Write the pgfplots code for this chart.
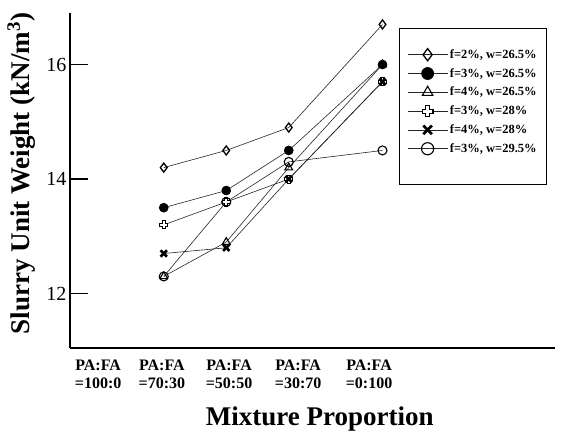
\documentclass[border=0pt]{standalone}
\usepackage{fontspec}
\setmainfont{Liberation Serif}
\usepackage{pgfplots}
\pgfplotsset{compat=1.18}

\pgfdeclareplotmark{hplus}{%
  \pgfpathmoveto{\pgfqpoint{-0.38\pgfplotmarksize}{\pgfplotmarksize}}%
  \pgfpathlineto{\pgfqpoint{0.38\pgfplotmarksize}{\pgfplotmarksize}}%
  \pgfpathlineto{\pgfqpoint{0.38\pgfplotmarksize}{0.38\pgfplotmarksize}}%
  \pgfpathlineto{\pgfqpoint{\pgfplotmarksize}{0.38\pgfplotmarksize}}%
  \pgfpathlineto{\pgfqpoint{\pgfplotmarksize}{-0.38\pgfplotmarksize}}%
  \pgfpathlineto{\pgfqpoint{0.38\pgfplotmarksize}{-0.38\pgfplotmarksize}}%
  \pgfpathlineto{\pgfqpoint{0.38\pgfplotmarksize}{-\pgfplotmarksize}}%
  \pgfpathlineto{\pgfqpoint{-0.38\pgfplotmarksize}{-\pgfplotmarksize}}%
  \pgfpathlineto{\pgfqpoint{-0.38\pgfplotmarksize}{-0.38\pgfplotmarksize}}%
  \pgfpathlineto{\pgfqpoint{-\pgfplotmarksize}{-0.38\pgfplotmarksize}}%
  \pgfpathlineto{\pgfqpoint{-\pgfplotmarksize}{0.38\pgfplotmarksize}}%
  \pgfpathlineto{\pgfqpoint{-0.38\pgfplotmarksize}{0.38\pgfplotmarksize}}%
  \pgfpathclose
  \pgfusepathqfillstroke
}

\begin{document}
\begin{tikzpicture}
\path[use as bounding box] (-70pt,-94pt) rectangle (498pt,348pt);
\begin{axis}[
  at={(0pt,0pt)}, anchor=south west,
  scale only axis, width=485pt, height=335pt,
  xmin=0, xmax=155.2, ymin=11.05, ymax=16.9,
  axis x line=bottom, axis y line=left,
  axis line style={-, line width=1.6pt},
  xtick={9,29.4,50.9,73,95.7},
  xticklabels={{PA:FA\\=100:0},{PA:FA\\=70:30},{PA:FA\\=50:50},{PA:FA\\=30:70},{PA:FA\\=0:100}},
  xticklabel style={font=\fontsize{16}{18}\selectfont\bfseries, align=center, anchor=north, yshift=-8pt},
  x tick style={draw=none},
  ytick={12,14,16},
  tick align=inside, major tick length=18pt,
  y tick style={line width=1.3pt, black},
  ytick pos=left,
  yticklabel style={font=\fontsize{20}{20}\selectfont},
  /pgf/number format/assume math mode=true,
  xlabel={Mixture Proportion},
  xlabel style={at={(axis description cs:0.515,-0.23)}, anchor=base, font=\fontsize{27}{27}\selectfont\bfseries},
  ylabel={Slurry Unit Weight (kN/m\textsuperscript{3})},
  ylabel style={at={(axis description cs:-0.0845,0.521)}, anchor=base, rotate=0, font=\fontsize{27}{27}\selectfont\bfseries},
  every axis plot/.append style={line width=0.6pt},
  legend style={at={(axis description cs:0.678,0.955)}, anchor=north west, draw=black, line width=1pt,
    font=\fontsize{12.5}{14}\selectfont\bfseries, inner xsep=8pt, inner ysep=19pt, row sep=4.5pt},
  legend cell align=left,
  legend image code/.code={\draw[line width=0.6pt,#1,mark repeat=2,mark phase=2,/tikz/every mark/.append style={scale=1.35}] plot coordinates {(0pt,0pt) (20pt,0pt) (40pt,0pt)};},
]
\addplot[black!85, mark=diamond, mark size=4.5pt, mark options={fill=white, line width=1.3pt, draw=black}]
  coordinates {(30,14.2) (50,14.5) (70,14.9) (100,16.7)};
\addlegendentry{f=2\%, w=26.5\%}
\addplot[black!85, mark=*, mark size=4.5pt, mark options={fill=black, draw=black}]
  coordinates {(30,13.5) (50,13.8) (70,14.5) (100,16.0)};
\addlegendentry{f=3\%, w=26.5\%}
\addplot[black!85, mark=triangle, mark size=4.5pt, mark options={fill=white, line width=1.1pt, draw=black}]
  coordinates {(30,12.3) (50,12.9) (70,14.2) (100,16.0)};
\addlegendentry{f=4\%, w=26.5\%}
\addplot[black!85, mark=hplus, mark size=4pt, mark options={fill=white, line width=1.1pt, draw=black}]
  coordinates {(30,13.2) (50,13.6) (70,14.0) (100,15.7)};
\addlegendentry{f=3\%, w=28\%}
\addplot[black!85, mark=x, mark size=4.5pt, mark options={line width=2.6pt, draw=black}]
  coordinates {(30,12.7) (50,12.8) (70,14.0) (100,15.7)};
\addlegendentry{f=4\%, w=28\%}
\addplot[black!85, mark=o, mark size=4.5pt, mark options={fill=white, line width=1.1pt, draw=black}]
  coordinates {(30,12.3) (50,13.6) (70,14.3) (100,14.5)};
\addlegendentry{f=3\%, w=29.5\%}
\addlegendimage{empty legend}
\addlegendentry{}
\end{axis}
\end{tikzpicture}
\end{document}
